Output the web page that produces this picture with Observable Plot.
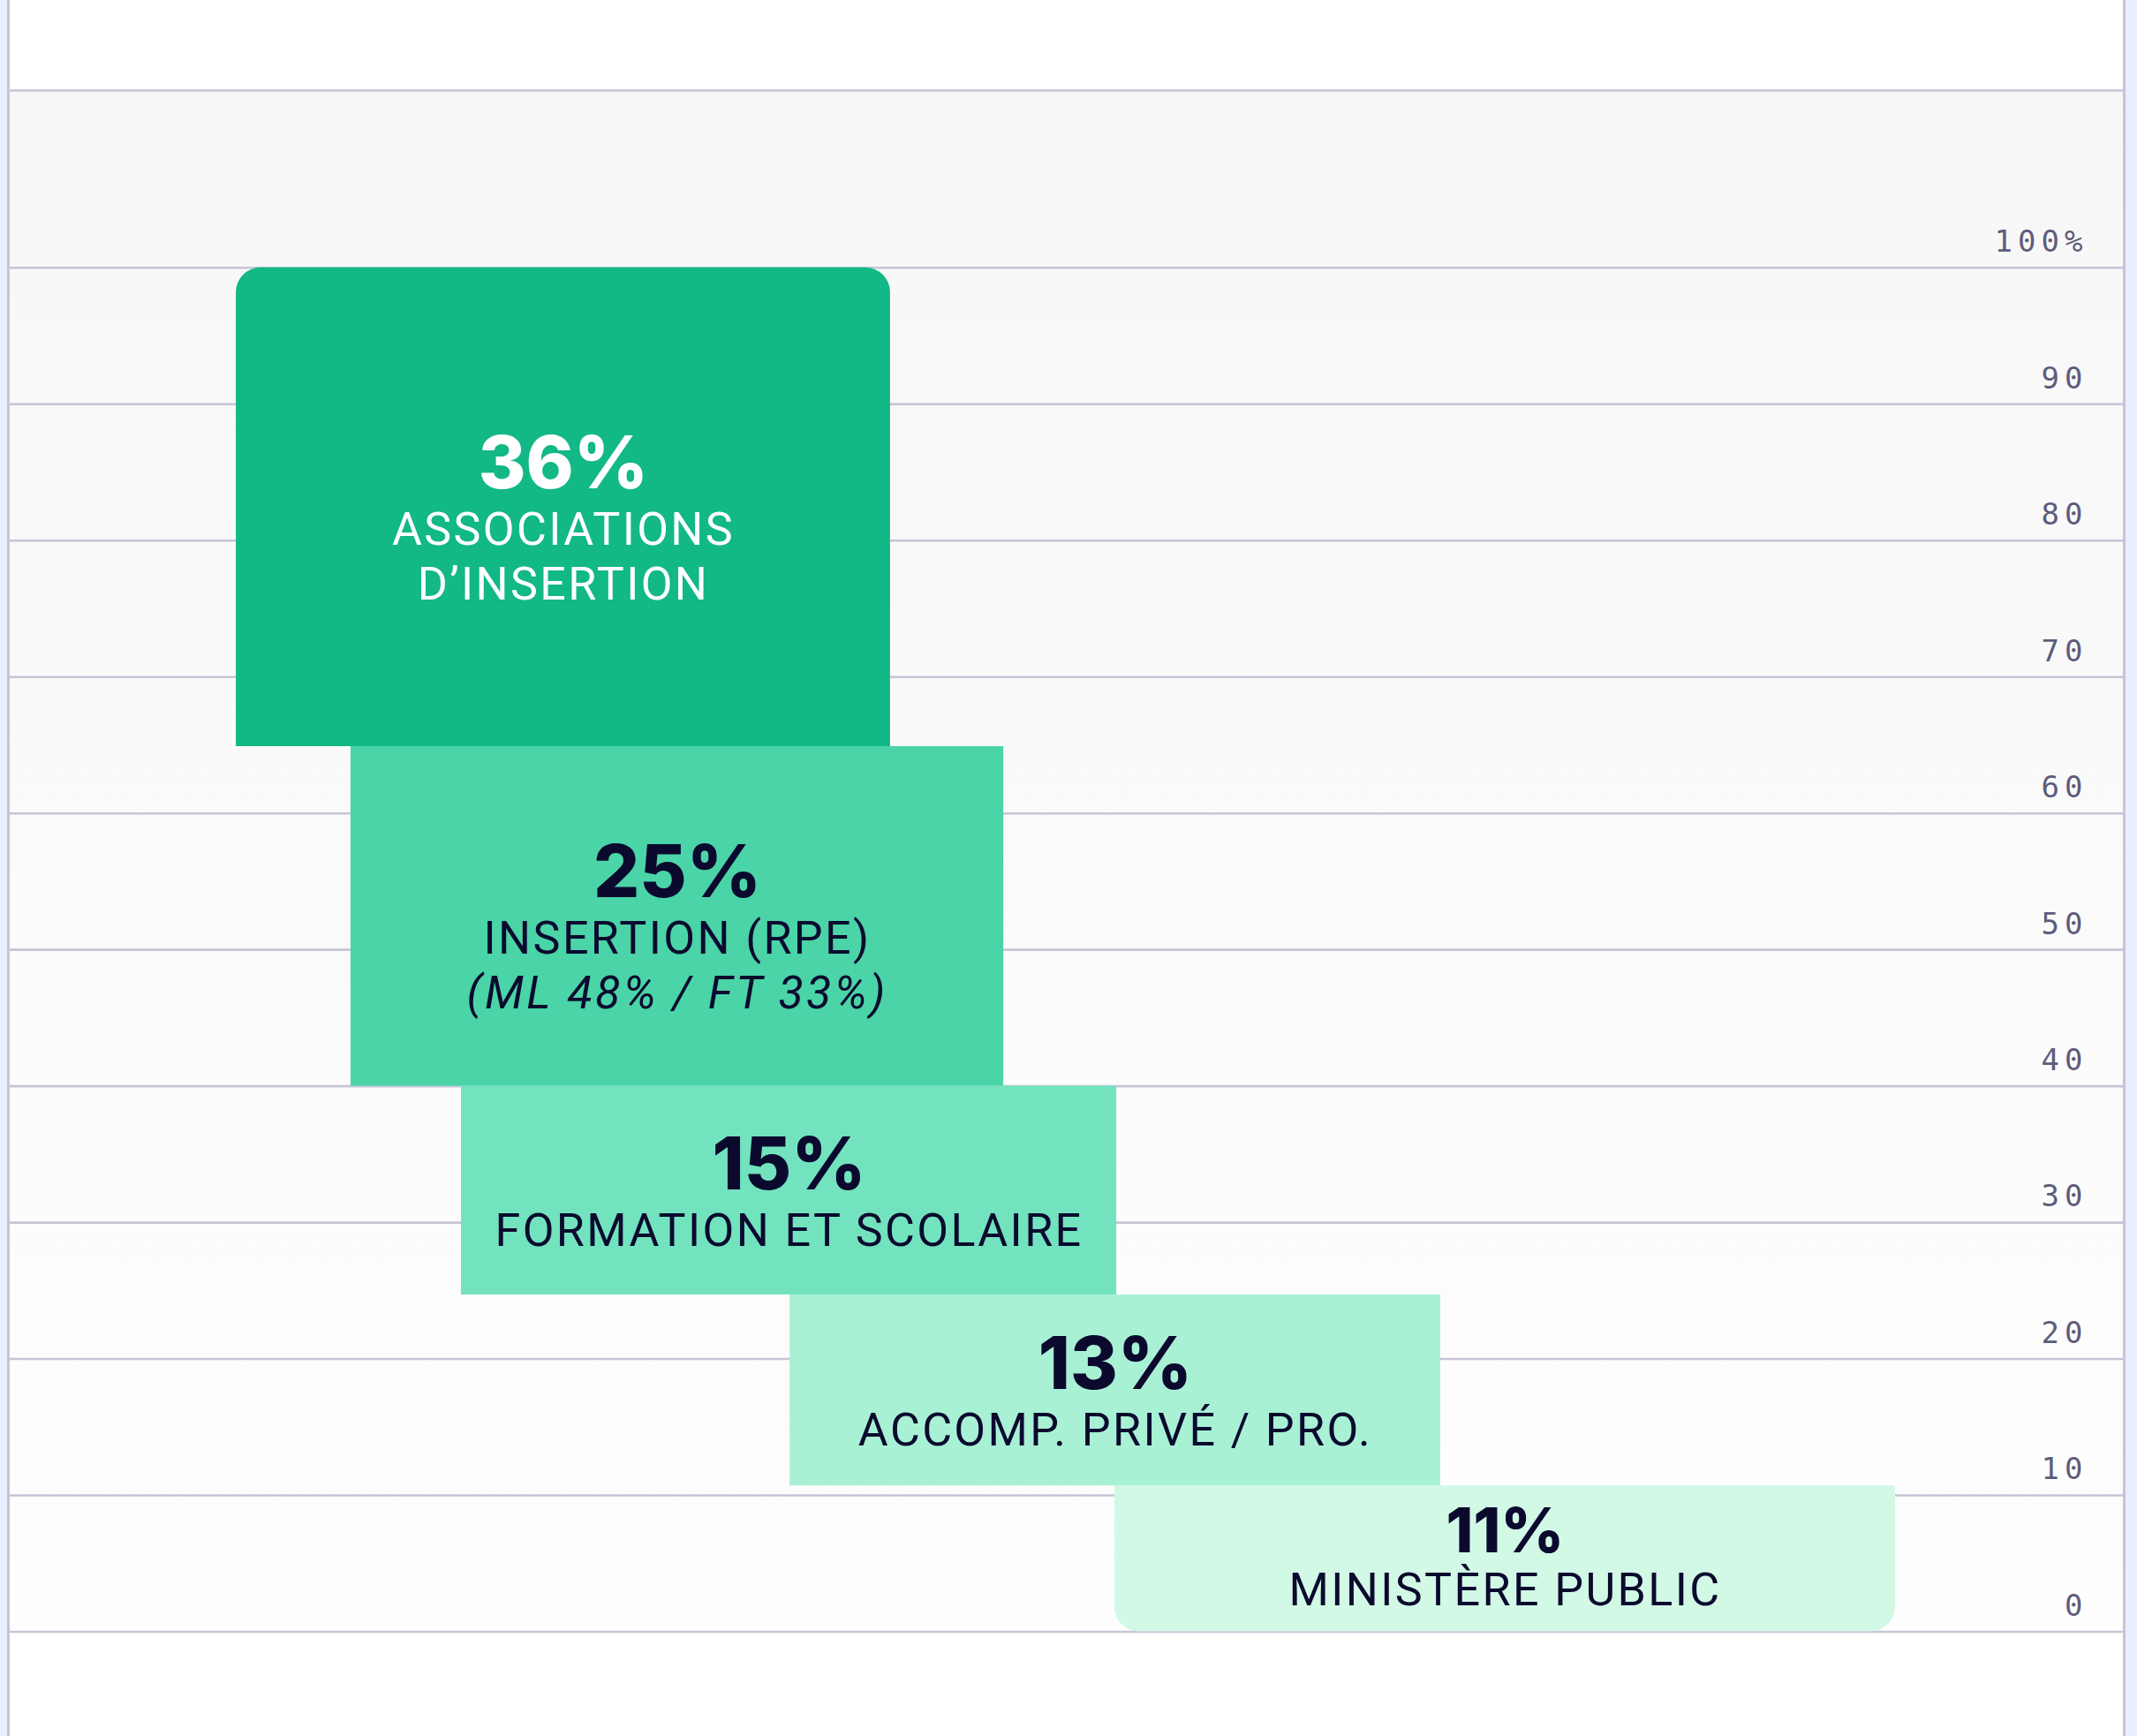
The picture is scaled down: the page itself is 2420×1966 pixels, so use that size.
<!DOCTYPE html>
<html>
<head>
<meta charset="utf-8">
<script src="https://cdn.jsdelivr.net/npm/d3@7"></script>
<script src="https://cdn.jsdelivr.net/npm/@observablehq/plot@0.6"></script>
<style>
  html, body { margin: 0; padding: 0; background: #ffffff; }
  #wrap { position: relative; width: 2420px; height: 1966px; overflow: hidden; }
  .strip { position: absolute; top: 0; height: 1966px; background: #e9effe; }
  .edge { position: absolute; top: 0; height: 1966px; background: #c6c5d6; }
</style>
</head>
<body>
<div id="wrap"></div>
<script>
// ---- data ----
const shares = [36, 25, 15, 13, 11];
const labels = [
  ["ASSOCIATIONS", "D’INSERTION"],
  ["INSERTION (RPE)"],
  ["FORMATION ET SCOLAIRE"],
  ["ACCOMP. PRIVÉ / PRO."],
  ["MINISTÈRE PUBLIC"]
];
const notes = ["", "(ML 48% / FT 33%)", "", "", ""];
const bandLow  = [64.9, 40, 24.7, 10.7, 0];
const bandHigh = [100, 64.9, 40, 24.7, 10.7];
const colStart = [10.73, 16.15, 21.37, 36.9, 52.25];
const colEnd   = [41.65, 47.0, 52.34, 67.65, 89.15];
const palette  = ["#12b886", "#4ad4a7", "#72e3be", "#a9f1d5", "#d2f8e6"];
const inks     = ["#ffffff", "#0b0a2e", "#0b0a2e", "#0b0a2e", "#0b0a2e"];
const tickValues = [0, 10, 20, 30, 40, 50, 60, 70, 80, 90, 100];
const tickLabels = ["0", "10", "20", "30", "40", "50", "60", "70", "80", "90", "100%"];
const yTop = 113;

// ---- table built from the arrays ----
const rows = shares.map((s, i) => ({
  i,
  share: s,
  pct: s + "%",
  x1: colStart[i], x2: colEnd[i],
  y1: bandLow[i], y2: bandHigh[i],
  cx: (colStart[i] + colEnd[i]) / 2,
  cy: (bandLow[i] + bandHigh[i]) / 2,
  fill: palette[i],
  ink: inks[i]
}));
const ticks = tickValues.map((v, i) => ({v, label: tickLabels[i]}));

const W = 2420, H = 1966;
const labelFont = "Roboto, 'Noto Sans', sans-serif";
const pctFont = "Inter, Roboto, sans-serif";
const tickFont = "'DejaVu Sans Mono', monospace";

const marks = [
  Plot.frame({fill: "url(#bgGrad)", stroke: "none"}),
  Plot.ruleY(tickValues, {stroke: "#c6c5d6", strokeWidth: 2.6}),
  Plot.ruleY([yTop], {stroke: "#c6c5d6", strokeWidth: 2.6}),
  Plot.text(ticks, {
    x: () => 100, y: "v", text: "label",
    textAnchor: "end", dx: -42, dy: -29, lineAnchor: "middle",
    fontFamily: tickFont, fontSize: 34,
    fill: "#5d5c7a"
  }),
  // middle boxes (square corners)
  Plot.rect(rows.filter(d => d.i > 0 && d.i < rows.length - 1), {
    x1: "x1", x2: "x2", y1: "y1", y2: "y2", fill: "fill"
  }),
  // top box: rounded top corners
  Plot.rect(rows.filter(d => d.i === 0), {
    x1: "x1", x2: "x2", y1: "y1", y2: "y2", fill: "fill", ry2: 28
  }),
  // bottom box: rounded bottom corners
  Plot.rect(rows.filter(d => d.i === rows.length - 1), {
    x1: "x1", x2: "x2", y1: "y1", y2: "y2", fill: "fill", ry1: 28
  })
];

rows.forEach((d, i) => {
  const lines = labels[i].map(t => ({t, italic: false}));
  if (notes[i]) lines.push({t: notes[i], italic: true});
  const n = lines.length;
  const compact = i === rows.length - 1;
  const gap = compact ? 66 : 74;
  const firstDy = compact ? 36 : 46 - (n - 1) * 20;
  marks.push(Plot.text([d], {
    x: "cx", y: "cy", text: "pct", fill: "ink",
    dy: firstDy - gap, lineAnchor: "middle", textAnchor: "middle",
    fontFamily: pctFont, fontWeight: 800, fontSize: compact ? 70 : 82
  }));
  lines.forEach((ln, j) => {
    marks.push(Plot.text([d], {
      x: "cx", y: "cy", text: () => ln.t, fill: "ink",
      dy: firstDy + j * 62, lineAnchor: "middle", textAnchor: "middle",
      fontFamily: labelFont,
      fontSize: 52, fontStyle: ln.italic ? "italic" : "normal"
    }));
  });
});

const chart = Plot.plot({
  width: W,
  height: H,
  marginLeft: 10,
  marginRight: 14,
  marginTop: 102,
  marginBottom: 118.5,
  x: {domain: [0, 100], axis: null},
  y: {domain: [0, yTop], axis: null},
  color: {type: "identity"},
  style: {background: "#ffffff", overflow: "visible"},
  marks
});

const ns = "http://www.w3.org/2000/svg";
const defs = document.createElementNS(ns, "defs");
defs.innerHTML = '<linearGradient id="bgGrad" x1="0" y1="0" x2="0" y2="1">' +
  '<stop offset="0" stop-color="#f7f7f7"/><stop offset="1" stop-color="#fefefe"/></linearGradient>';
chart.insertBefore(defs, chart.firstChild);

// letter spacing: tick labels and box labels
chart.querySelectorAll("g[font-family]").forEach(g => {
  const ff = g.getAttribute("font-family");
  if (ff === tickFont) g.setAttribute("letter-spacing", "6");
  else if (ff === labelFont) {
    g.setAttribute("letter-spacing", g.getAttribute("font-style") === "italic" ? "3.2" : "2.4");
  }
});

const wrap = document.getElementById("wrap");
wrap.appendChild(chart);
[["strip", 0, 8], ["edge", 8, 2.6], ["edge", 2404, 3], ["strip", 2407, 13]].forEach(([cls, left, w]) => {
  const div = document.createElement("div");
  div.className = cls;
  div.style.left = left + "px";
  div.style.width = w + "px";
  wrap.appendChild(div);
});
</script>
</body>
</html>
